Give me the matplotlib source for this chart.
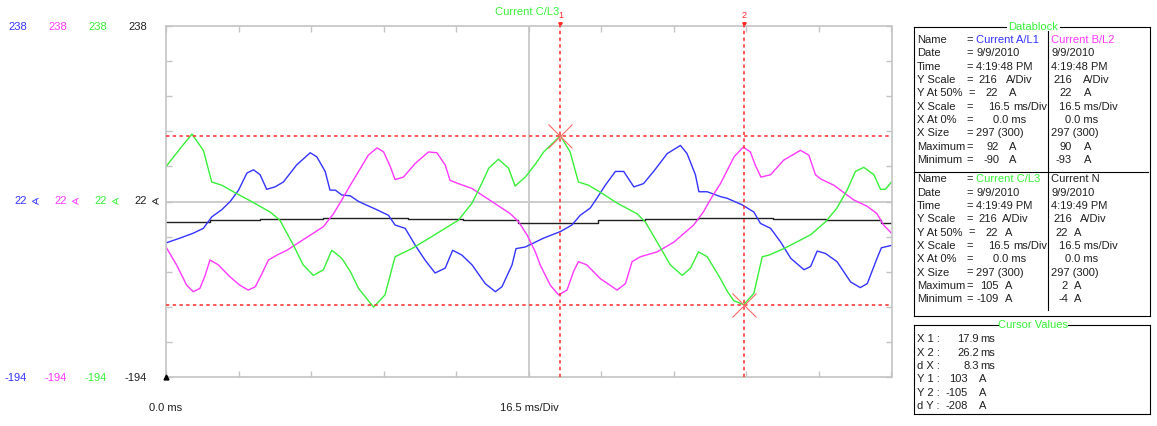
import matplotlib
matplotlib.use("Agg")
import matplotlib.pyplot as plt
import numpy as np

plt.rcParams['font.family'] = ['Liberation Sans', 'DejaVu Sans']

# ---- waveform data (time in ms, current in A) ----
green_t = [0, 3.2, 5.9, 8.5, 10.4, 12.7, 15.3, 19.1, 23.7, 25.9, 29.0, 31.2, 33.5, 35.8, 37.7,
           40.0, 41.9, 43.8, 47.2, 49.8, 52.1, 53.6, 55.9, 60.5, 66.5, 69.6, 71.8, 73.4, 75.6, 77.9,
           79.4, 81.7, 84.0, 85.9, 89.7, 91.9, 93.8, 96.1, 99.2, 102.6, 107.1, 109.0, 111.7, 114.7,
           117.4, 119.3, 121.1, 123.1, 126.1, 127.6, 129.1, 131.4, 133.7, 135.6, 137.1, 140.5, 146.6,
           150.0, 152.6, 154.9, 156.8, 158.7, 161.0, 162.5, 163.6, 165.0]
green_a = [65, 87, 105, 85, 46, 42, 34, 23, 9, -1, -32, -56, -69, -62, -38,
           -48, -64, -85, -108, -93, -46, -42, -36, -21, -1, 20, 44, 63, 74, 63,
           41, 52, 68, 83, 103, 83, 46, 42, 32, 20, 7, -3, -28, -56,
           -69, -60, -40, -46, -73, -88, -100, -105, -91, -46, -44, -36, -19,
           -3, 14, 36, 59, 64, 55, 37, 37, 46]

blue_t = [0, 3.2, 6.2, 8.5, 10.4, 12.7, 14.6, 16.5, 18.4, 19.9, 21.4, 22.9, 24.8, 26.7, 29.7,
          32.8, 34.3, 36.2, 37.3, 38.5, 40.0, 41.9, 43.8, 48.3, 50.6, 52.1, 54.4, 56.7, 58.9, 61.2,
          63.5, 65.2, 67.3, 69.6, 72.6, 74.9, 76.4, 78.7, 79.6, 81.7, 84.0, 85.9, 89.7, 92.3, 94.2,
          96.5, 98.0, 99.9, 102.2, 104.1, 106.4, 108.6, 110.9, 114.0, 117.0, 118.5, 120.4, 121.2,
          123.1, 126.1, 127.6, 131.0, 133.7, 135.2, 137.5, 139.8, 142.1, 145.1, 146.6, 148.1,
          150.0, 152.6, 155.7, 157.9, 159.5, 161.7, 162.7, 165.0]
blue_a = [-29, -23, -17, -11, 3, 12, 22, 36, 57, 61, 55, 37, 40, 46, 67,
          82, 77, 59, 36, 36, 30, 29, 22, 11, 5, -7, -11, -32, -50, -66,
          -60, -38, -44, -56, -79, -89, -83, -56, -36, -34, -28, -23, -15, -7, 5,
          14, 26, 42, 59, 59, 40, 44, 59, 81, 91, 81, 55, 34,
          34, 28, 26, 18, 9, -5, -11, -28, -48, -62, -58, -39,
          -42, -52, -77, -84, -79, -48, -35, -32]

mag_t = [0, 2.4, 4.7, 6.2, 7.7, 8.9, 10.0, 11.9, 14.6, 16.8, 18.7, 20.3, 21.8, 23.3, 25.2,
         27.5, 31.2, 35.8, 38.1, 40.0, 41.9, 43.8, 46.0, 48.0, 49.5, 51.0, 52.1, 54.0, 56.7, 59.7,
         61.6, 63.5, 64.6, 66.5, 69.6, 74.1, 78.3, 80.2, 82.1, 84.0, 85.1, 87.4, 89.3, 91.2, 92.7,
         93.8, 95.7, 98.8, 102.6, 104.5, 106.0, 107.9, 111.7, 115.5, 120.0, 122.2, 124.2, 126.1,
         129.2, 131.3, 132.9, 134.0, 135.3, 137.5, 140.5, 144.3, 146.2, 147.7, 148.8, 151.9,
         156.4, 159.5, 161.7, 163.2, 165.0]
mag_a = [-34, -56, -81, -89, -85, -69, -50, -56, -71, -81, -87, -83, -67, -50, -44,
         -38, -25, -9, 7, 24, 42, 59, 79, 88, 83, 65, 49, 52, 69, 83,
         82, 67, 48, 44, 38, 22, 7, -3, -19, -40, -56, -81, -93, -87, -64,
         -52, -56, -73, -87, -79, -52, -46, -40, -28, -7, 9, 28, 44,
         77, 89, 83, 67, 52, 55, 73, 85, 79, 55, 50, 42,
         24, 16, 7, -7, -17]

neutral_t = [0, 10.0, 21.4, 35.7, 55.1, 67.6, 80.1, 98.3, 109.0, 121.1, 138.1, 150.0, 162.5, 165.0]
neutral_a = [-3, -1, 0, 2, 0, -1, -4, -1, 0, 2, 0, -1, -4, -4]

# axis scale
y_top, y_center, y_bottom = 238, 22, -194
x_div = 16.5

# cursors
cursor_t = [89.7, 131.4]
cursor_a = [103, -105]
cursor_x_read = ['17.9', '26.2', '8.3']
cursor_y_read = ['103', '-105', '-208']

# datablock content
series_names = ['Current A/L1', 'Current B/L2', 'Current C/L3', 'Current N']
series_date = '9/9/2010'
series_time = ['4:19:48 PM', '4:19:48 PM', '4:19:49 PM', '4:19:49 PM']
y_scale = '216'
y_at50 = '22'
x_scale = '16.5'
x_at0 = '0.0'
x_size = '297 (300)'
series_max = ['92', '90', '105', '2']
series_min = ['-90', '-93', '-109', '-4']

BLUE = '#3434ff'
MAG = '#ff38ff'
GREEN = '#38f038'
BLACK = '#202020'
RED = '#ff2a2a'
series_colors = [BLUE, MAG, GREEN, BLACK]

W, H = 1157, 426
fig = plt.figure(figsize=(W / 100, H / 100), dpi=100)


def fx(x):
    return x / W


def fy(y):
    return 1 - y / H


def ftext(x, y, s, **kw):
    kw.setdefault('fontsize', 8)
    kw.setdefault('va', 'center')
    kw.setdefault('color', BLACK)
    return fig.text(fx(x), fy(y), s, **kw)


def fline(x0, y0, x1, y1, **kw):
    kw.setdefault('color', 'black')
    kw.setdefault('lw', 0.8)
    fig.add_artist(plt.Line2D([fx(x0), fx(x1)], [fy(y0), fy(y1)], **kw))


ax = fig.add_axes([fx(166), fy(377), fx(891.5) - fx(166), fy(26) - fy(377)])
ax.set_xlim(0, 10 * x_div)
ax.set_ylim(y_bottom, y_top)
ax.set_xticks(np.arange(11) * x_div)
ax.set_yticks(y_bottom + np.arange(11) * (y_top - y_bottom) / 10)
ax.tick_params(direction='in', length=4, width=1, color='#c4c4c4', top=True, right=True,
               labelbottom=False, labelleft=False)
for sp in ax.spines.values():
    sp.set_color('#c4c4c4')
    sp.set_linewidth(1.2)

ax.axvline(5 * x_div, color='#cccccc', lw=1.4, zorder=0)
ax.axhline(y_center, color='#cccccc', lw=1.4, zorder=0)

ax.plot(neutral_t, neutral_a, color=BLACK, lw=1.0, drawstyle='steps-post')
ax.plot(blue_t, blue_a, color=BLUE, lw=1.0)
ax.plot(mag_t, mag_a, color=MAG, lw=1.0)
ax.plot(green_t, green_a, color=GREEN, lw=1.0)

# cursors
for i, (t, a) in enumerate(zip(cursor_t, cursor_a)):
    ax.axhline(a, color=RED, lw=1.1, ls=(0, (2.2, 2.2)), zorder=3)
    ax.plot([t, t], [y_bottom, 244], color=RED, lw=1.1, ls=(0, (2.2, 2.2)), clip_on=False, zorder=3)
    ax.plot(t, a, marker='x', ms=17, mew=0.8, color='#ff6a6a', zorder=4)
    ax.text(t, 245.5, str(i + 1), color=RED, fontsize=6.5, ha='center', va='bottom', clip_on=False)
    ax.plot(t, 240, marker='v', ms=2.5, color=RED, clip_on=False)

ax.plot(0, y_bottom, marker='^', ms=3.5, color='black', clip_on=False, zorder=5)

# left scale labels
col_right = [27, 67, 107, 147]
for c, xr in zip(series_colors, col_right):
    ftext(xr, 27, str(y_top), color=c, ha='right')
    ftext(xr, 201, str(y_center), color=c, ha='right')
    ftext(xr + 8, 201.5, '\u2222', color=c, ha='center', fontsize=7.5, family='DejaVu Sans')
    ftext(xr, 378, str(y_bottom), color=c, ha='right')

ftext(166, 408, '0.0 ms', ha='center')
ftext(529, 408, '16.5 ms/Div', ha='center')
ftext(527, 12, series_names[2], color=GREEN, ha='center')

# ---- Datablock ----
bx0, bx1, by0, by1 = 914, 1150, 27, 315.5
divx = 1047.7
fline(bx0, by0, 1006, by0)
fline(1060, by0, bx1, by0)
fline(bx0, by1, bx1, by1)
fline(bx0, by0, bx0, by1)
fline(bx1, by0, bx1, by1)
fline(divx, by0 + 4, divx, by1 - 6)
fline(bx0, 172, bx1 - 2, 172)
ftext(1033, 27, 'Datablock', color=GREEN, ha='center')

labels = ['Name', 'Date', 'Time', 'Y Scale', 'Y At 50%', 'X Scale', 'X At 0%', 'X Size',
          'Maximum', 'Minimum']
row_h = 13.33
col2_num_r = [1072, 1068]
col2_unit = [1084, 1074]
col2_ydiv = [1083, 1080]
col1_unit = [1009, 1005]
for b, y0 in enumerate([40, 179.3]):
    s1, s2 = 2 * b, 2 * b + 1
    ys = [y0 + k * row_h for k in range(10)]
    for lab, y in zip(labels, ys):
        ftext(917, y, lab)
    for k in range(10):
        ftext(966 if k != 4 else 968, ys[k], '=')
    # column 1
    ftext(976.5, ys[0], series_names[s1], color=series_colors[s1])
    ftext(976.5, ys[1], series_date)
    ftext(976.5, ys[2], series_time[s1])
    ftext(997, ys[3], y_scale, ha='right')
    ftext(col1_unit[b] - 3, ys[3], 'A/Div')
    ftext(998, ys[4], y_at50, ha='right')
    ftext(col1_unit[b], ys[4], 'A')
    ftext(1010, ys[5], x_scale, ha='right')
    ftext(1013, ys[5], 'ms/Div')
    ftext(993, ys[6], x_at0 + ' ms')
    ftext(976.5, ys[7], x_size)
    ftext(999, ys[8], series_max[s1], ha='right')
    ftext(col1_unit[b], ys[8], 'A')
    ftext(999, ys[9], series_min[s1], ha='right')
    ftext(col1_unit[b], ys[9], 'A')
    # column 2
    ftext(1051, ys[0], series_names[s2], color=series_colors[s2] if s2 != 3 else BLACK)
    ftext(1051, ys[1], series_date)
    ftext(1051, ys[2], series_time[s2])
    ftext(1072, ys[3], y_scale, ha='right')
    ftext(col2_ydiv[b], ys[3], 'A/Div')
    ftext(col2_num_r[b], ys[4], y_at50, ha='right')
    ftext(col2_unit[b], ys[4], 'A')
    ftext(1059, ys[5], x_scale + ' ms/Div')
    ftext(1065, ys[6], x_at0 + ' ms')
    ftext(1051, ys[7], x_size)
    ftext(col2_num_r[b], ys[8], series_max[s2], ha='right')
    ftext(col2_unit[b], ys[8], 'A')
    ftext(col2_num_r[b], ys[9], series_min[s2], ha='right')
    ftext(col2_unit[b], ys[9], 'A')

# ---- Cursor values ----
cx0, cx1, cy0, cy1 = 914, 1150, 325, 414.3
fline(cx0, cy0, 998, cy0)
fline(1068, cy0, cx1, cy0)
fline(cx0, cy1, cx1, cy1)
fline(cx0, cy0, cx0, cy1)
fline(cx1, cy0, cx1, cy1)
ftext(1033, cy0, 'Cursor Values', color=GREEN, ha='center')
cur_labels = ['X 1 :', 'X 2 :', 'd X :', 'Y 1 :', 'Y 2 :', 'd Y :']
cys = [339.3 + k * 13.35 for k in range(6)]
for lab, y in zip(cur_labels, cys):
    ftext(917, y, lab)
for v, y in zip(cursor_x_read, cys[:3]):
    ftext(979, y, v, ha='right')
    ftext(980.5, y, 'ms')
for v, y in zip(cursor_y_read, cys[3:]):
    ftext(968, y, v, ha='right')
    ftext(979, y, 'A')

fig.savefig('out.png', dpi=100)
